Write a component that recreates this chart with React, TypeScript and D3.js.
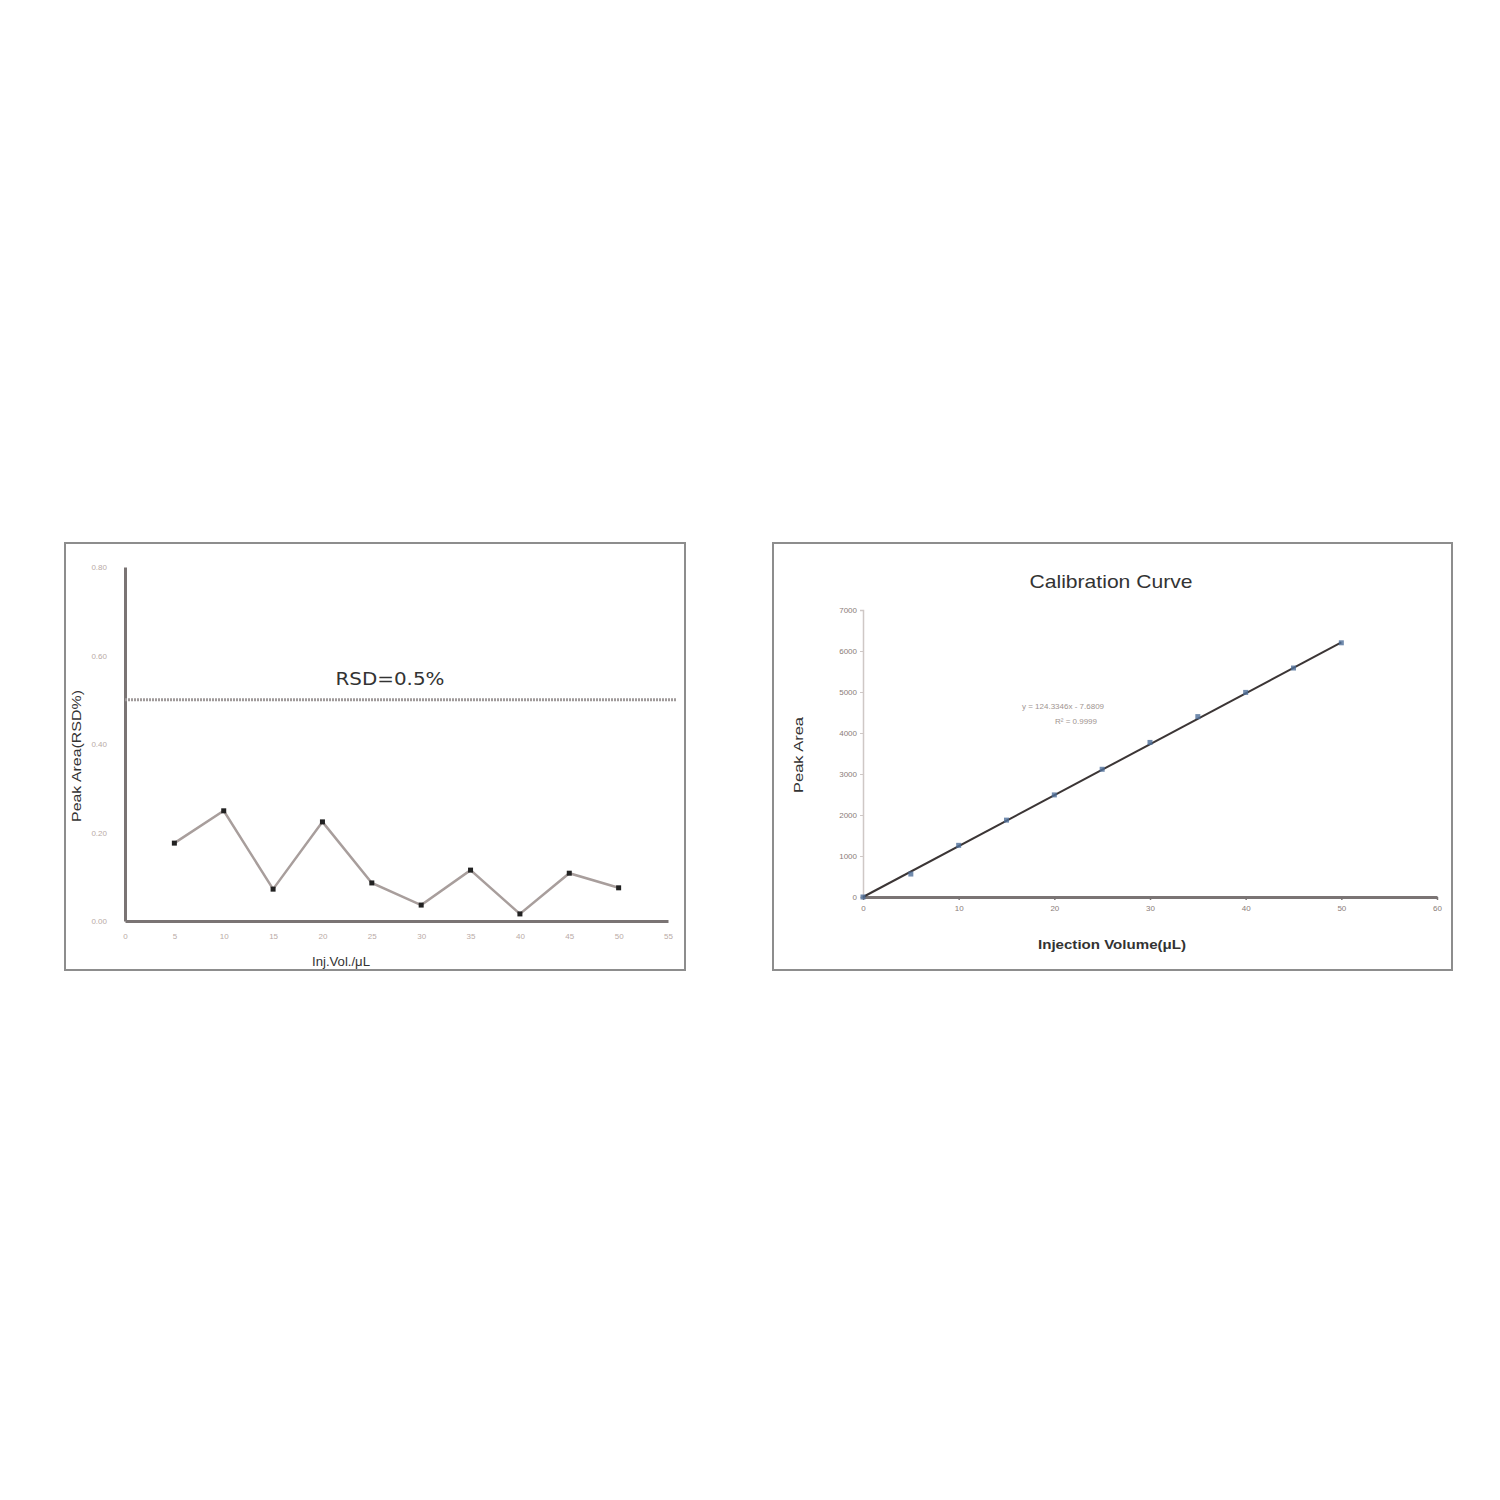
import React, { useRef, useEffect } from "react";
import { select, scaleLinear, axisLeft, axisBottom, line } from "d3";

// left chart: precision (RSD%) vs injection volume
const rsdVolumes = [5, 10, 15, 20, 25, 30, 35, 40, 45, 50];
const rsdValues = [0.176, 0.249, 0.072, 0.224, 0.086, 0.036, 0.115, 0.016, 0.108, 0.075];
const rsdLimit = 0.5;
const rsdXTicks = [0, 5, 10, 15, 20, 25, 30, 35, 40, 45, 50, 55];
const rsdYTicks = [0, 0.2, 0.4, 0.6, 0.8];

// right chart: calibration curve
const calVolumes = [0, 5, 10, 15, 20, 25, 30, 35, 40, 45, 50];
const calAreas = [0, 560, 1260, 1875, 2490, 3115, 3770, 4400, 4990, 5585, 6200];
const calXTicks = [0, 10, 20, 30, 40, 50, 60];
const calYTicks = [0, 1000, 2000, 3000, 4000, 5000, 6000, 7000];
const fitSlope = 124.3346;
const fitIntercept = -7.6809;

const tickColor = "#b9aaa6";
const axisColor = "#7a7474";

const App: React.FC = () => {
  const svgRef = useRef<SVGSVGElement>(null);

  useEffect(() => {
    const svg = select(svgRef.current);
    svg.selectAll("*").remove();

    // ---------- left chart ----------
    const lx = scaleLinear().domain([0, 55]).range([125, 668]);
    const ly = scaleLinear().domain([0, 0.8]).range([921, 567]);

    svg.append("rect")
      .attr("x", 65).attr("y", 543).attr("width", 620).attr("height", 427)
      .attr("fill", "#fff").attr("stroke", "#8d8d8d").attr("stroke-width", 2);

    const lxAxis = svg.append("g")
      .attr("transform", `translate(0,${ly(0)})`)
      .call(axisBottom(lx).tickValues(rsdXTicks).tickSize(0).tickPadding(12).tickFormat((d: any) => `${d}`));
    lxAxis.select(".domain").attr("stroke", axisColor).attr("stroke-width", 3);
    lxAxis.selectAll("text").attr("fill", tickColor).attr("font-size", 8).attr("font-family", "Arial, sans-serif");

    const lyAxis = svg.append("g")
      .attr("transform", `translate(${lx(0)},0)`)
      .call(axisLeft(ly).tickValues(rsdYTicks).tickSize(0).tickPadding(18).tickFormat((d: any) => (+d).toFixed(2)));
    lyAxis.select(".domain").attr("stroke", axisColor).attr("stroke-width", 3);
    lyAxis.selectAll("text").attr("fill", tickColor).attr("font-size", 8).attr("font-family", "Arial, sans-serif");

    // RSD limit line
    svg.append("line")
      .attr("x1", lx(0)).attr("x2", lx(55) + 8)
      .attr("y1", ly(rsdLimit)).attr("y2", ly(rsdLimit))
      .attr("stroke", "#a09a9a").attr("stroke-width", 3).attr("stroke-dasharray", "2 1");
    svg.append("text")
      .attr("x", 390).attr("y", 685)
      .attr("text-anchor", "middle")
      .attr("font-family", "DejaVu Sans, sans-serif").attr("font-size", 18)
      .attr("textLength", 109).attr("lengthAdjust", "spacingAndGlyphs")
      .attr("fill", "#333").text("RSD=0.5%");

    const rsdPts = rsdVolumes.map((v, i) => [v, rsdValues[i]] as [number, number]);
    svg.append("path")
      .attr("d", line().x((d) => lx(d[0])).y((d) => ly(d[1]))(rsdPts) as string)
      .attr("fill", "none").attr("stroke", "#a89e9c").attr("stroke-width", 2.5);
    svg.selectAll(".rsdpt").data(rsdPts).enter().append("rect")
      .attr("x", (d) => lx(d[0]) - 2.5).attr("y", (d) => ly(d[1]) - 2.5)
      .attr("width", 5).attr("height", 5).attr("fill", "#222");

    svg.append("text")
      .attr("transform", "translate(81,756) rotate(-90)")
      .attr("text-anchor", "middle")
      .attr("font-family", "Arial, sans-serif").attr("font-size", 12)
      .attr("textLength", 132).attr("lengthAdjust", "spacingAndGlyphs")
      .attr("fill", "#333").text("Peak Area(RSD%)");
    svg.append("text")
      .attr("x", 341).attr("y", 966)
      .attr("text-anchor", "middle")
      .attr("font-family", "Arial, sans-serif").attr("font-size", 12)
      .attr("textLength", 58).attr("lengthAdjust", "spacingAndGlyphs")
      .attr("fill", "#333").text("Inj.Vol./μL");

    // ---------- right chart ----------
    const rx = scaleLinear().domain([0, 60]).range([863, 1437]);
    const ry = scaleLinear().domain([0, 7000]).range([897, 610]);

    svg.append("rect")
      .attr("x", 773).attr("y", 543).attr("width", 679).attr("height", 427)
      .attr("fill", "#fff").attr("stroke", "#8d8d8d").attr("stroke-width", 2);

    svg.append("text")
      .attr("x", 1111).attr("y", 588)
      .attr("text-anchor", "middle")
      .attr("font-family", "Arial, sans-serif").attr("font-size", 19)
      .attr("textLength", 163).attr("lengthAdjust", "spacingAndGlyphs")
      .attr("fill", "#333").text("Calibration Curve");

    const ryAxis = svg.append("g")
      .attr("transform", `translate(${rx(0)},0)`)
      .call(axisLeft(ry).tickValues(calYTicks).tickSize(3).tickPadding(3).tickFormat((d: any) => `${d}`));
    ryAxis.select(".domain").attr("stroke", "#cfc8c6").attr("stroke-width", 1.5);
    ryAxis.selectAll("line").attr("stroke", "#cfc8c6");
    ryAxis.selectAll("text").attr("fill", "#8a7c78").attr("font-size", 8).attr("font-family", "Arial, sans-serif");

    const rxAxis = svg.append("g")
      .attr("transform", `translate(0,${ry(0)})`)
      .call(axisBottom(rx).tickValues(calXTicks).tickSizeInner(3).tickSizeOuter(0).tickPadding(5).tickFormat((d: any) => `${d}`));
    rxAxis.select(".domain").attr("stroke", axisColor).attr("stroke-width", 3);
    rxAxis.selectAll("line").attr("stroke", axisColor).attr("stroke-width", 1.5);
    rxAxis.selectAll("text").attr("fill", "#8a7c78").attr("font-size", 8).attr("font-family", "Arial, sans-serif");

    // linear fit
    svg.append("line")
      .attr("x1", rx(0)).attr("y1", ry(Math.max(0, fitIntercept)))
      .attr("x2", rx(50)).attr("y2", ry(fitIntercept + fitSlope * 50))
      .attr("stroke", "#3b3535").attr("stroke-width", 2);

    const calPts = calVolumes.map((v, i) => [v, calAreas[i]] as [number, number]);
    svg.selectAll(".calpt").data(calPts).enter().append("rect")
      .attr("x", (d) => rx(d[0]) - 2.5).attr("y", (d) => ry(d[1]) - 2.5)
      .attr("width", 5).attr("height", 5)
      .attr("fill", "#4f6f9a").attr("opacity", 0.8);

    svg.append("text")
      .attr("x", 1063).attr("y", 709)
      .attr("text-anchor", "middle")
      .attr("font-family", "Arial, sans-serif").attr("font-size", 8)
      .attr("fill", "#a09490").text(`y = ${fitSlope}x - ${Math.abs(fitIntercept)}`);
    svg.append("text")
      .attr("x", 1076).attr("y", 724)
      .attr("text-anchor", "middle")
      .attr("font-family", "Arial, sans-serif").attr("font-size", 8)
      .attr("fill", "#a09490").text("R² = 0.9999");

    svg.append("text")
      .attr("transform", "translate(803,755) rotate(-90)")
      .attr("text-anchor", "middle")
      .attr("font-family", "Arial, sans-serif").attr("font-size", 13)
      .attr("textLength", 76).attr("lengthAdjust", "spacingAndGlyphs")
      .attr("fill", "#333").text("Peak Area");
    svg.append("text")
      .attr("x", 1112).attr("y", 949)
      .attr("text-anchor", "middle")
      .attr("font-family", "Arial, sans-serif").attr("font-size", 13).attr("font-weight", "bold")
      .attr("textLength", 148).attr("lengthAdjust", "spacingAndGlyphs")
      .attr("fill", "#333").text("Injection Volume(μL)");
  }, []);

  return (
    <svg
      ref={svgRef}
      width={1500}
      height={1500}
      style={{ position: "absolute", left: 0, top: 0, background: "#fff" }}
    />
  );
};

export default App;
